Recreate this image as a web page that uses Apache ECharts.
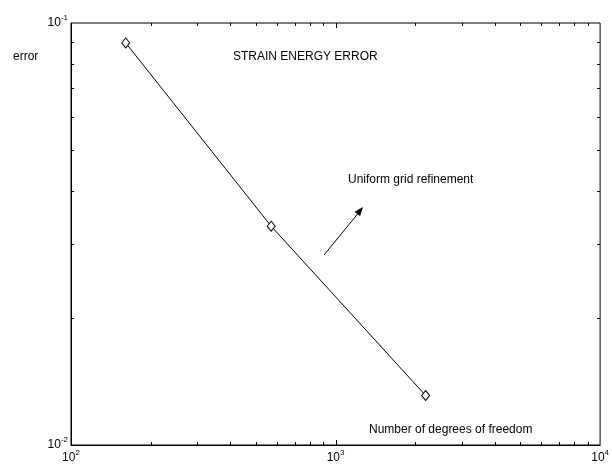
<!DOCTYPE html>
<html>
<head>
<meta charset="utf-8">
<script src="https://cdn.jsdelivr.net/npm/echarts@6/dist/echarts.min.js"></script>
<style>
  html, body { margin: 0; padding: 0; background: #fff; }
  #chart { width: 612px; height: 464px; }
</style>
</head>
<body>
<div id="chart"></div>
<script>
// Strain energy error versus number of degrees of freedom (uniform refinement)
const dofs = [161, 571, 2190];
const errors = [0.0897, 0.0330, 0.0131];

// Axis ranges (log scale, base 10)
const xRange = [100, 10000];
const yRange = [0.01, 0.1];

// Tick positions drawn on all four sides of the box
const xMajorTicks = [1000];
const xMinorTicks = [200, 300, 400, 500, 600, 700, 800, 900,
                     2000, 3000, 4000, 5000, 6000, 7000, 8000, 9000];
const yMinorTicks = [0.02, 0.03, 0.04, 0.05, 0.06, 0.07, 0.08, 0.09];

const FONT = '"Liberation Sans", Arial, Helvetica, sans-serif';

const chart = echarts.init(document.getElementById('chart'), null, { renderer: 'canvas' });

function powerLabel(v) {
  const e = Math.round(Math.log10(v));
  return '{b|10}{s|' + e + '}';
}
const powerRich = {
  b: { fontSize: 12, lineHeight: 18, fontFamily: FONT, color: '#000' },
  s: { fontSize: 8, lineHeight: 8, verticalAlign: 'top', fontFamily: FONT, color: '#000' }
};

// Inward tick marks along the x edges (bottom and top)
function renderXTick(params, api) {
  const cs = params.coordSys;
  const v = api.value(0);
  const len = api.value(2);
  const p = api.coord([v, yRange[0]]);
  const x = Math.round(p[0]) + 0.5;
  const bottom = cs.y + cs.height;
  const top = cs.y;
  const style = { stroke: '#000', lineWidth: 1 };
  return {
    type: 'group',
    children: [
      { type: 'line', shape: { x1: x, y1: bottom, x2: x, y2: bottom - len }, style: style },
      { type: 'line', shape: { x1: x, y1: top, x2: x, y2: top + len }, style: style }
    ]
  };
}
// Inward tick marks along the y edges (left and right)
function renderYTick(params, api) {
  const cs = params.coordSys;
  const v = api.value(1);
  const len = api.value(2);
  const p = api.coord([xRange[0], v]);
  const y = Math.round(p[1]) + 0.5;
  const left = cs.x;
  const right = cs.x + cs.width;
  const style = { stroke: '#000', lineWidth: 1 };
  return {
    type: 'group',
    children: [
      { type: 'line', shape: { x1: left, y1: y, x2: left + len, y2: y }, style: style },
      { type: 'line', shape: { x1: right, y1: y, x2: right - len, y2: y }, style: style }
    ]
  };
}

const xTickData = xMajorTicks.map(v => [v, yRange[0], 5])
  .concat(xMinorTicks.map(v => [v, yRange[0], 3]));
const yTickData = yMinorTicks.map(v => [xRange[0], v, 3]);

// Arrow annotation
const arrowStart = [324, 255];
const arrowEnd = [363, 207];
function arrowHead(from, to, len, half) {
  const dx = to[0] - from[0], dy = to[1] - from[1];
  const d = Math.sqrt(dx * dx + dy * dy);
  const ux = dx / d, uy = dy / d;
  const bx = to[0] - ux * len, by = to[1] - uy * len;
  return [to, [bx - uy * half, by + ux * half], [bx + uy * half, by - ux * half]];
}

const option = {
  backgroundColor: '#fff',
  animation: false,
  textStyle: { fontFamily: FONT },
  grid: {
    left: 71, right: 7, top: 23, bottom: 19,
    show: true, borderColor: '#000', borderWidth: 1, backgroundColor: 'transparent'
  },
  xAxis: {
    type: 'log', logBase: 10, min: xRange[0], max: xRange[1],
    axisLine: { show: true, lineStyle: { color: '#000', width: 1 } },
    axisTick: { show: false },
    splitLine: { show: false },
    axisLabel: {
      margin: 4, formatter: powerLabel, rich: powerRich,
      showMinLabel: true, showMaxLabel: true
    }
  },
  yAxis: {
    type: 'log', logBase: 10, min: yRange[0], max: yRange[1],
    axisLine: { show: true, lineStyle: { color: '#000', width: 1 } },
    axisTick: { show: false },
    splitLine: { show: false },
    axisLabel: {
      margin: 3, formatter: powerLabel, rich: powerRich,
      showMinLabel: true, showMaxLabel: true
    }
  },
  series: [
    {
      type: 'line',
      data: dofs.map((d, i) => [d, errors[i]]),
      symbol: 'diamond',
      symbolSize: [8, 10],
      showSymbol: true,
      lineStyle: { color: '#000', width: 1 },
      itemStyle: { color: '#fff', borderColor: '#000', borderWidth: 1 },
      z: 5
    },
    {
      type: 'custom', renderItem: renderXTick, data: xTickData,
      encode: { x: 0, y: 1 }, silent: true, clip: false, z: 3
    },
    {
      type: 'custom', renderItem: renderYTick, data: yTickData,
      encode: { x: 0, y: 1 }, silent: true, clip: false, z: 3
    }
  ],
  graphic: [
    { type: 'text', left: 13, top: 51, style: { text: 'error', font: '12px ' + FONT, fill: '#000' } },
    { type: 'text', left: 233, top: 51, style: { text: 'STRAIN ENERGY ERROR', font: '12px ' + FONT, fill: '#000' } },
    { type: 'text', left: 348, top: 174, style: { text: 'Uniform grid refinement', font: '12px ' + FONT, fill: '#000' } },
    { type: 'text', left: 369, top: 424, style: { text: 'Number of degrees of freedom', font: '12px ' + FONT, fill: '#000' } },
    {
      type: 'line',
      shape: { x1: arrowStart[0], y1: arrowStart[1], x2: arrowEnd[0] - 3, y2: arrowEnd[1] + 4 },
      style: { stroke: '#000', lineWidth: 1 }
    },
    {
      type: 'polygon',
      shape: { points: arrowHead(arrowStart, arrowEnd, 9, 3.5) },
      style: { fill: '#000' }
    }
  ]
};

chart.setOption(option);
</script>
</body>
</html>
